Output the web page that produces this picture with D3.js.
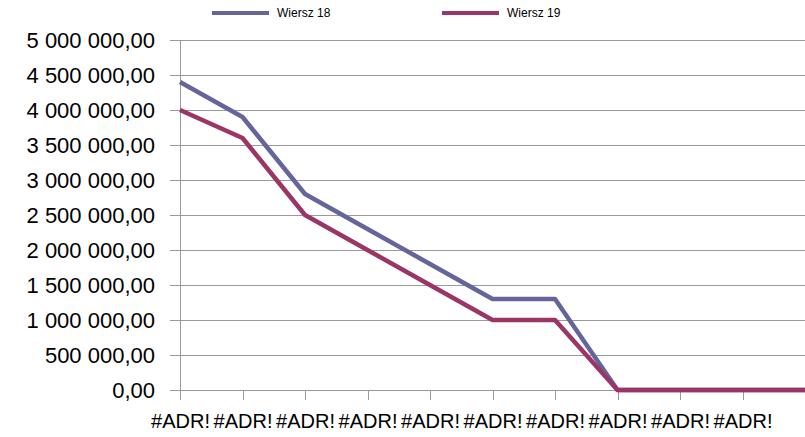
<!DOCTYPE html>
<html>
<head>
<meta charset="utf-8">
<script src="https://cdn.jsdelivr.net/npm/d3@7"></script>
<style>
  body { margin: 0; background: #fff; }
  text { font-family: "Liberation Sans", Arial, sans-serif; fill: #000; }
</style>
</head>
<body>
<svg id="chart" width="805" height="437"></svg>
<script>
// data
var categories = ["#ADR!", "#ADR!", "#ADR!", "#ADR!", "#ADR!", "#ADR!", "#ADR!", "#ADR!", "#ADR!", "#ADR!", ""];
var wiersz18 = [4400000, 3900000, 2800000, 2300000, 1800000, 1300000, 1300000, 0, 0, 0, 0];
var wiersz19 = [4000000, 3600000, 2500000, 2000000, 1500000, 1000000, 1000000, 0, 0, 0, 0];
var yTicks = [0, 500000, 1000000, 1500000, 2000000, 2500000, 3000000, 3500000, 4000000, 4500000, 5000000];
var seriesNames = ["Wiersz 18", "Wiersz 19"];
var seriesColors = ["#65659c", "#9b3566"];

var svg = d3.select("#chart"),
    plotLeft = 180, plotRight = 805, plotTop = 40, plotBottom = 390;

var x = d3.scaleLinear().domain([0, categories.length - 1]).range([plotLeft, plotRight]);
var y = d3.scaleLinear().domain([0, 5000000]).range([plotBottom, plotTop]);

var pl = d3.formatLocale({decimal: ",", thousands: "\u00a0", grouping: [3], currency: ["", ""]});
var fmt = pl.format(",.2f");

// gridlines
svg.append("g")
    .selectAll("line")
    .data(yTicks)
    .enter().append("line")
    .attr("x1", plotLeft - 10)
    .attr("x2", plotRight)
    .attr("y1", function (d) { return y(d); })
    .attr("y2", function (d) { return y(d); })
    .attr("stroke", "#9a9a9a")
    .attr("stroke-width", 1)
    .attr("shape-rendering", "crispEdges");

// y axis labels
var yAxis = svg.append("g")
    .attr("transform", "translate(" + plotLeft + ",0)")
    .call(d3.axisLeft(y).tickValues(yTicks).tickSize(0).tickPadding(25).tickFormat(fmt));
yAxis.select(".domain").remove();
yAxis.selectAll("text")
    .attr("font-size", 22)
    .attr("font-family", "Liberation Sans, Arial, sans-serif")
    .attr("fill", "#000");

// x axis
var xAxis = svg.append("g")
    .attr("transform", "translate(0," + plotBottom + ")")
    .call(d3.axisBottom(x)
        .tickValues(d3.range(categories.length))
        .tickSize(10)
        .tickPadding(14)
        .tickFormat(function (d) { return categories[d]; }));
xAxis.select(".domain").remove();
xAxis.selectAll("line").attr("stroke", "#9a9a9a").attr("shape-rendering", "crispEdges");
xAxis.selectAll("text")
    .attr("font-size", 20)
    .attr("font-family", "Liberation Sans, Arial, sans-serif")
    .attr("fill", "#000");

// vertical axis line
svg.append("line")
    .attr("x1", plotLeft).attr("x2", plotLeft)
    .attr("y1", plotTop).attr("y2", plotBottom + 10)
    .attr("stroke", "#9a9a9a")
    .attr("shape-rendering", "crispEdges");

var line = d3.line()
    .x(function (d, i) { return x(i); })
    .y(function (d) { return y(d); });

[wiersz18, wiersz19].forEach(function (s, i) {
    svg.append("path")
        .datum(s)
        .attr("d", line)
        .attr("fill", "none")
        .attr("stroke", seriesColors[i])
        .attr("stroke-width", 4.5)
        .attr("stroke-linejoin", "round");
});

// legend
var legendX = [212, 442];
var legend = svg.append("g")
    .selectAll("g")
    .data(seriesNames)
    .enter().append("g")
    .attr("transform", function (d, i) { return "translate(" + legendX[i] + ",13)"; });
legend.append("line")
    .attr("x1", 0).attr("x2", 57)
    .attr("stroke", function (d, i) { return seriesColors[i]; })
    .attr("stroke-width", 4);
legend.append("text")
    .attr("x", 65)
    .attr("y", 4)
    .attr("font-size", 12)
    .text(function (d) { return d; });
</script>
</body>
</html>
